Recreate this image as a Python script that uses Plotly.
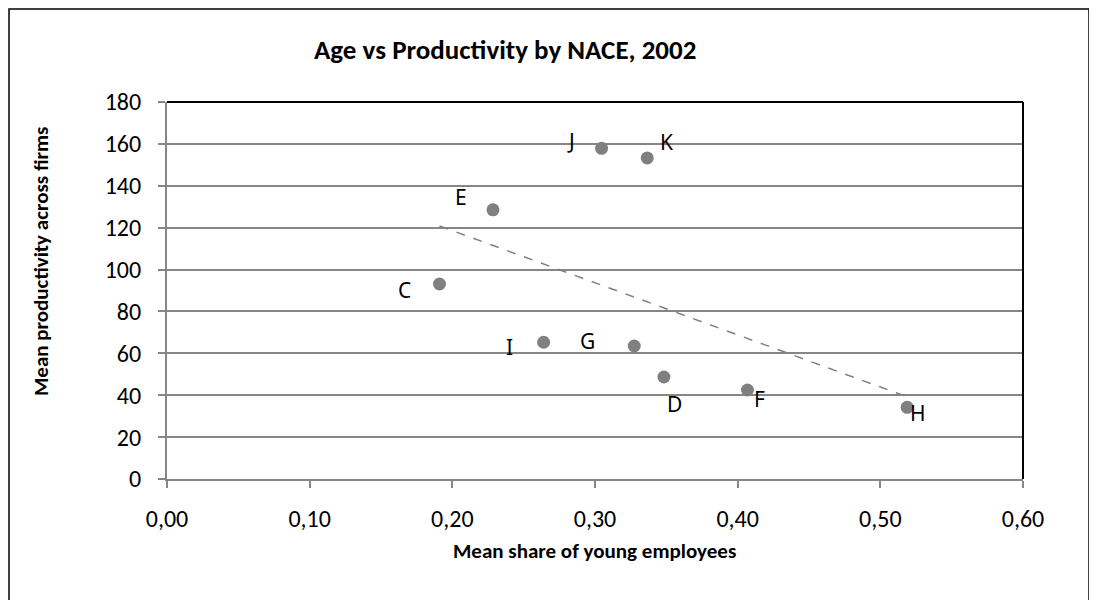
import numpy as np
import plotly.graph_objects as go

# Data
sectors = ["C", "E", "J", "K", "I", "G", "D", "F", "H"]
share_young = [0.191, 0.2285, 0.3046, 0.3366, 0.264, 0.3275, 0.3483, 0.4069, 0.5188]
productivity = [93.1, 128.5, 157.9, 153.3, 65.3, 63.5, 48.7, 42.5, 34.2]
x_ticks = [0.0, 0.1, 0.2, 0.3, 0.4, 0.5, 0.6]
x_tick_labels = ["0,00", "0,10", "0,20", "0,30", "0,40", "0,50", "0,60"]
y_ticks = [0, 20, 40, 60, 80, 100, 120, 140, 160, 180]

# label offsets (pixels) for point labels
label_dx = [-35, -32, -31, 19, -34, -47, 11, 12, 11]
label_dy = [-6, 13, 7, 16, -5, 5, -27, -9, -6]

OFF = 8  # page body margin
W, H = 1097 - OFF, 600 - OFF
L, R, T, B = 167 - OFF, 1023 - OFF, 102 - OFF, 479 - OFF

GRAY = "#868686"
MARK = "#808080"
FONT = "Carlito, Liberation Sans Narrow, Lato, sans-serif"

# linear trendline (Excel style) from the data
slope, intercept = np.polyfit(share_young, productivity, 1)
tx = [min(share_young), max(share_young)]
ty = [slope * v + intercept for v in tx]

fig = go.Figure()
fig.add_trace(go.Scatter(x=tx, y=ty, mode="lines",
                         line=dict(color=MARK, width=1.5, dash="dash"),
                         hoverinfo="skip", showlegend=False))
fig.add_trace(go.Scatter(x=share_young, y=productivity, mode="markers",
                         marker=dict(color=MARK, size=13),
                         hoverinfo="skip", showlegend=False))

for s, xv, yv, dx, dy in zip(sectors, share_young, productivity, label_dx, label_dy):
    fig.add_annotation(x=xv, y=yv, text=s, showarrow=False, xshift=dx, yshift=dy,
                       xanchor="center", yanchor="middle",
                       font=dict(family="Noto Sans, Open Sans, sans-serif", size=21, color="black"))

pw, ph = R - L, B - T
def px(xp):
    return (xp - OFF - L) / pw
def py(yp):
    return (B - (yp - OFF)) / ph

# Title
fig.add_annotation(xref="paper", yref="paper", x=px(505), y=py(50), text="<b>Age vs Productivity by NACE, 2002</b>",
                   xanchor="center", yanchor="middle",
                   showarrow=False, font=dict(family=FONT, size=27, color="black"))
# Axis titles
fig.add_annotation(xref="paper", yref="paper", x=px(594), y=py(551), text="<b>Mean share of young employees</b>",
                   xanchor="center", yanchor="middle",
                   showarrow=False, font=dict(family=FONT, size=21, color="black"))
fig.add_annotation(xref="paper", yref="paper", x=px(41), y=py(262), text="<b>Mean productivity across firms</b>",
                   xanchor="center", yanchor="middle",
                   textangle=-90, showarrow=False, font=dict(family=FONT, size=21, color="black"))

# Outer chart border
fig.add_shape(type="rect", xref="paper", yref="paper", x0=px(9), x1=px(1089), y0=py(602), y1=py(9),
              line=dict(color="black", width=1.5), layer="below")
# Plot area top and right border
fig.add_shape(type="line", xref="paper", yref="paper", x0=0, x1=1, y0=1, y1=1,
              line=dict(color="black", width=2))
fig.add_shape(type="line", xref="paper", yref="paper", x0=1, x1=1, y0=0, y1=1,
              line=dict(color="black", width=2))

fig.update_xaxes(range=[0, 0.6], tickvals=x_ticks, ticktext=x_tick_labels,
                 showgrid=False, zeroline=False, showline=True, linecolor=GRAY, linewidth=2,
                 ticks="outside", ticklen=7, tickcolor=GRAY, tickwidth=1.5,
                 ticklabelstandoff=10,
                 tickfont=dict(family=FONT, size=24, color="black"))
fig.update_yaxes(range=[0, 180], tickvals=y_ticks,
                 showgrid=True, gridcolor=GRAY, gridwidth=1.5, zeroline=False,
                 showline=True, linecolor=GRAY, linewidth=2,
                 ticks="outside", ticklen=7, tickcolor=GRAY, tickwidth=1.5,
                 ticklabelstandoff=12,
                 tickfont=dict(family=FONT, size=24, color="black"))

fig.update_layout(width=W, height=H, autosize=False,
                  margin=dict(l=L, r=W - R, t=T, b=H - B, pad=0),
                  plot_bgcolor="white", paper_bgcolor="white", showlegend=False)

fig.write_html("out.html")
